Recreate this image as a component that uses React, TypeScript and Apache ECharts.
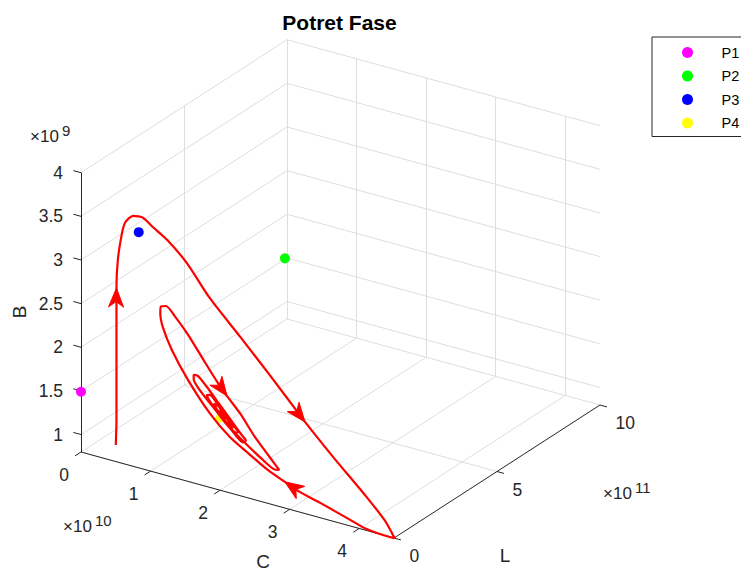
import React, { useEffect, useRef } from 'react';
import * as echarts from 'echarts';

// ---------- axis set-up (C in 1e10, L in 1e11, B in 1e9) ----------
const C_LIMITS = [0, 4.5];
const L_LIMITS = [0, 10];
const B_LIMITS = [0.8, 4];
const C_TICKS = [0, 1, 2, 3, 4];
const L_TICKS = [0, 5, 10];
const B_TICKS = [1, 1.5, 2, 2.5, 3, 3.5, 4];
const C_TICK_LABELS = ['0', '1', '2', '3', '4'];
const L_TICK_LABELS = ['0', '5', '10'];
const B_TICK_LABELS = ['1', '1.5', '2', '2.5', '3', '3.5', '4'];

// ---------- trajectory ----------
const TRAJ_C = [
  0.50, 0.51, 0.51, 0.51, 0.51, 0.53, 0.59, 0.63, 0.69, 0.75,
  0.82, 0.89, 1.04, 1.24, 1.52, 1.85, 2.29, 2.72, 3.15, 3.22,
  3.62, 4.11, 4.37, 4.47, 4.51, 4.34, 4.08, 3.87, 3.44, 3.15,
  2.93, 2.69, 2.43, 2.14, 1.85, 1.54, 1.31, 1.18, 1.14, 1.15,
  1.22, 1.35, 1.54, 1.78, 1.97, 2.10, 2.29, 2.49, 2.66, 2.79,
  2.85, 2.80, 2.60, 2.36, 2.11, 1.90, 1.71, 1.62, 1.62, 1.68,
  1.80, 1.96, 2.14, 2.30, 2.37, 2.33, 2.17, 2.00, 1.85, 1.81,
  1.85, 1.98, 2.14, 2.26, 2.23, 2.08, 1.94, 1.91, 1.97, 2.08,
  2.19, 2.16, 2.04, 1.97, 2.01, 2.07, 2.06, 2.01, 2.03,
];
const TRAJ_L = [
  0, 0, 0, 0, 0, 0, 0, 0, 0, 0,
  0, 0, 0, 0, 0, 0, 0, 0, 0, 0,
  0, 0, 0, 0, 0, 0, 0, 0, 0, 0,
  0, 0, 0, 0, 0, 0, 0, 0, 0, 0,
  0, 0, 0, 0, 0, 0, 0, 0, 0, 0,
  0, 0, 0, 0, 0, 0, 0, 0, 0, 0,
  0, 0, 0, 0, 0, 0, 0, 0, 0, 0,
  0, 0, 0, 0, 0, 0, 0, 0, 0, 0,
  0, 0, 0, 0, 0, 0, 0, 0, 0,
];
const TRAJ_B = [
  0.99, 1.28, 1.85, 2.42, 2.79, 3.12, 3.44, 3.56, 3.63, 3.67,
  3.68, 3.68, 3.60, 3.50, 3.30, 2.97, 2.62, 2.27, 1.91, 1.85,
  1.54, 1.18, 0.97, 0.85, 0.80, 0.80, 0.82, 0.87, 0.97, 1.03,
  1.10, 1.18, 1.30, 1.44, 1.65, 1.96, 2.25, 2.48, 2.64, 2.72,
  2.74, 2.65, 2.48, 2.22, 2.02, 1.90, 1.74, 1.53, 1.38, 1.27,
  1.22, 1.21, 1.29, 1.42, 1.57, 1.73, 1.88, 1.99, 2.04, 2.04,
  1.95, 1.81, 1.65, 1.51, 1.45, 1.42, 1.52, 1.65, 1.79, 1.85,
  1.86, 1.76, 1.62, 1.52, 1.51, 1.60, 1.73, 1.77, 1.76, 1.66,
  1.56, 1.56, 1.64, 1.70, 1.70, 1.64, 1.62, 1.64, 1.64,
];
const ARROW_AT = [4, 19, 30, 45];

// ---------- equilibrium points ----------
const EQ_NAMES = ['P1', 'P2', 'P3', 'P4'];
const EQ_C = [0, 0, 0.83, 2.0];
const EQ_L = [0, 9.9, 0, 0];
const EQ_B = [1.49, 1.51, 3.5, 1.63];
const EQ_COLORS = ['#ff00ff', '#00ff00', '#0000ff', '#ffff00'];

const FONT = '"Liberation Sans", Arial, Helvetica, sans-serif';
const W = 741;
const H = 572;

// 3-D view: screen vectors spanned by each full axis range
const ORIGIN = [81, 452];
const C_VEC = [313, 86];
const L_VEC = [206, -133];
const B_VEC = [0, -279.3];

function proj(c: number, l: number, b: number): [number, number] {
  const u = (c - C_LIMITS[0]) / (C_LIMITS[1] - C_LIMITS[0]);
  const v = (l - L_LIMITS[0]) / (L_LIMITS[1] - L_LIMITS[0]);
  const w = (b - B_LIMITS[0]) / (B_LIMITS[1] - B_LIMITS[0]);
  return [
    ORIGIN[0] + u * C_VEC[0] + v * L_VEC[0] + w * B_VEC[0],
    ORIGIN[1] + u * C_VEC[1] + v * L_VEC[1] + w * B_VEC[1],
  ];
}

function seg(a: number[], b: number[]) {
  return { coords: [proj(a[0], a[1], a[2]), proj(b[0], b[1], b[2])] };
}

function buildOption() {
  const [c0, c1] = C_LIMITS;
  const [l0, l1] = L_LIMITS;
  const [b0, b1] = B_LIMITS;

  const grid: any[] = [];
  B_TICKS.forEach((b) => {
    grid.push(seg([c0, l0, b], [c0, l1, b]));
    grid.push(seg([c0, l1, b], [c1, l1, b]));
  });
  L_TICKS.forEach((l) => {
    grid.push(seg([c0, l, b0], [c0, l, b1]));
    grid.push(seg([c0, l, b0], [c1, l, b0]));
  });
  C_TICKS.forEach((c) => {
    grid.push(seg([c, l1, b0], [c, l1, b1]));
    grid.push(seg([c, l0, b0], [c, l1, b0]));
  });

  const axes: any[] = [
    seg([c0, l0, b0], [c0, l0, b1]),
    seg([c0, l0, b0], [c1, l0, b0]),
    seg([c1, l0, b0], [c1, l1, b0]),
  ];
  B_TICKS.forEach((b) => axes.push(seg([c0, l0, b], [c0 - 0.11, l0, b])));
  C_TICKS.forEach((c) => axes.push(seg([c, l0, b0], [c, l0 - 0.29, b0])));
  L_TICKS.forEach((l) => axes.push(seg([c1, l, b0], [c1 + 0.1, l, b0])));

  type Lbl = { p: [number, number]; text: string; align: string; size: number };
  const labels: Lbl[] = [];
  B_TICKS.forEach((b, i) => {
    const p = proj(c0, l0, b);
    labels.push({ p: [p[0] - 18, p[1]], text: B_TICK_LABELS[i], align: 'right', size: 17.5 });
  });
  C_TICKS.forEach((c, i) => {
    const p = proj(c, l0, b0);
    labels.push({ p: [p[0] - 17, p[1] + 23], text: C_TICK_LABELS[i], align: 'center', size: 17.5 });
  });
  L_TICKS.forEach((l, i) => {
    const p = proj(c1, l, b0);
    labels.push({ p: [p[0] + 15.5, p[1] + 18], text: L_TICK_LABELS[i], align: 'left', size: 17.5 });
  });

  const traj = TRAJ_C.map((c, i) => proj(c, TRAJ_L[i], TRAJ_B[i]));
  const arrows = ARROW_AT.map((i) => [...traj[i], ...traj[i - 1], ...traj[i + 1]]);

  const series: any[] = [
    {
      type: 'lines', coordinateSystem: 'cartesian2d', silent: true, z: 1,
      polyline: false, data: grid,
      lineStyle: { color: '#dedede', width: 1, opacity: 1, curveness: 0 },
    },
    {
      type: 'lines', coordinateSystem: 'cartesian2d', silent: true, z: 2,
      polyline: false, data: axes,
      lineStyle: { color: '#262626', width: 1, opacity: 1, curveness: 0 },
    },
    {
      type: 'custom', coordinateSystem: 'cartesian2d', silent: true, z: 2, clip: false,
      data: labels.map((l) => l.p),
      renderItem: (params: any, api: any) => {
        const it = labels[params.dataIndex];
        const pt = api.coord([api.value(0), api.value(1)]);
        return {
          type: 'text', x: pt[0], y: pt[1],
          style: {
            text: it.text, align: it.align, textAlign: it.align,
            verticalAlign: 'middle', textVerticalAlign: 'middle',
            fontSize: it.size, fontFamily: FONT, fill: '#262626',
          },
        };
      },
    },
    ...EQ_NAMES.map((n, i) => ({
      type: 'scatter', name: n, silent: true, z: 3,
      symbol: 'circle', symbolSize: i === 3 ? 9 : 10,
      itemStyle: { color: EQ_COLORS[i], opacity: 1 },
      data: [proj(EQ_C[i], EQ_L[i], EQ_B[i])],
    })),
    {
      type: 'line', name: 'trajectory', silent: true, z: 4,
      data: traj, showSymbol: false, symbol: 'none', smooth: 0.25,
      lineStyle: { color: '#ff0000', width: 2.2 },
    },
    {
      type: 'custom', coordinateSystem: 'cartesian2d', silent: true, z: 5, clip: false,
      data: arrows,
      renderItem: (params: any, api: any) => {
        const tip = api.coord([api.value(0), api.value(1)]);
        const prev = api.coord([api.value(2), api.value(3)]);
        const next = api.coord([api.value(4), api.value(5)]);
        let dx = next[0] - prev[0];
        let dy = next[1] - prev[1];
        const len = Math.hypot(dx, dy) || 1;
        dx /= len; dy /= len;
        const nx = -dy, ny = dx;
        const L = 19, HW = 7.5, N = 13.5;
        const pts = [
          [tip[0], tip[1]],
          [tip[0] - dx * L + nx * HW, tip[1] - dy * L + ny * HW],
          [tip[0] - dx * N, tip[1] - dy * N],
          [tip[0] - dx * L - nx * HW, tip[1] - dy * L - ny * HW],
        ];
        return {
          type: 'polygon', shape: { points: pts },
          style: { fill: '#ff0000', stroke: '#ff0000', lineWidth: 1 },
        };
      },
    },
  ];

  const txt = (text: string, x: number, y: number, size: number, extra: any = {}) => ({
    type: 'text', x, y, silent: true, z: 10, ...extra,
    style: {
      text, fontSize: size, fontFamily: FONT, fill: extra.fill || '#262626',
      fontWeight: extra.fontWeight || 'normal',
      textAlign: extra.align || 'left', textVerticalAlign: 'middle',
    },
  });

  const graphic = [
    txt('Potret Fase', 339.5, 22.5, 21, { fontWeight: 'bold', fill: '#000', align: 'center' }),
    txt('B', 19, 312, 19, { align: 'center', rotation: Math.PI / 2 }),
    txt('C', 263, 561, 19, { align: 'center' }),
    txt('L', 505, 555, 19, { align: 'center' }),
    txt('×10', 30, 136, 17),
    txt('9', 62, 130, 15),
    txt('×10', 63, 526, 17),
    txt('10', 95, 520, 15),
    txt('×10', 603, 493.5, 17),
    txt('11', 635, 487, 15),
  ];

  return {
    animation: false,
    backgroundColor: '#ffffff',
    grid: { left: 0, right: 0, top: 0, bottom: 0 },
    xAxis: { type: 'value', min: 0, max: W, show: false },
    yAxis: { type: 'value', min: 0, max: H, inverse: true, show: false },
    legend: {
      data: EQ_NAMES, orient: 'vertical', left: 652, top: 37,
      icon: 'circle', itemWidth: 58, itemHeight: 11, itemGap: 8.5,
      padding: [8, 26, 6, 30], borderColor: '#262626', borderWidth: 1,
      backgroundColor: '#ffffff',
      textStyle: { fontSize: 14.5, fontFamily: FONT, color: '#000' },
      selectedMode: false,
    },
    graphic,
    series,
  };
}

export default function App() {
  const ref = useRef<HTMLDivElement>(null);
  useEffect(() => {
    if (!ref.current) return;
    const chart = echarts.init(ref.current, null, { renderer: 'svg' });
    chart.setOption(buildOption() as any);
    return () => chart.dispose();
  }, []);
  return (
    <div
      ref={ref}
      style={{ position: 'fixed', left: 0, top: 0, width: W, height: H, background: '#fff' }}
    />
  );
}
